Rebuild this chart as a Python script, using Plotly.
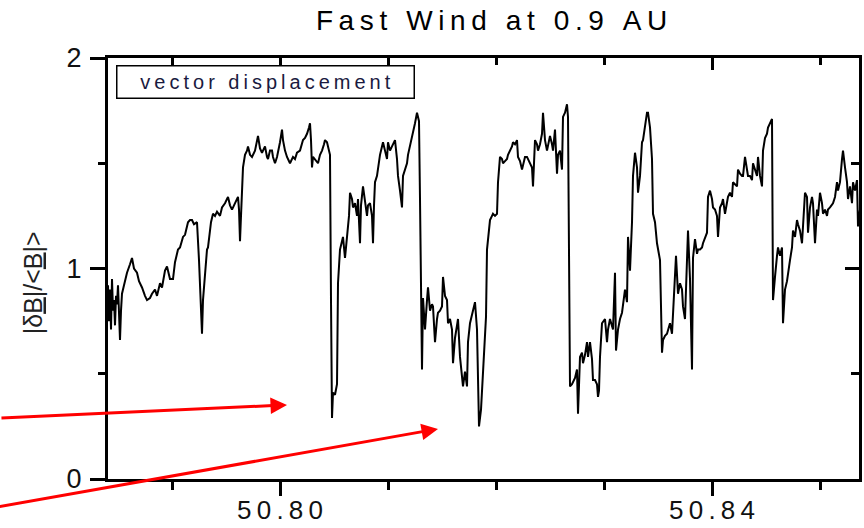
import plotly.graph_objects as go

# Fast-wind magnetic fluctuation amplitude |dB|/<|B|>, time in seconds after day 50.78
t_sec = [
    352, 360, 368, 376, 384, 392, 400, 408, 416, 424, 432, 440, 448, 456, 464, 480,
    504, 528, 544, 560, 584, 600, 624, 648, 664, 688, 704, 728, 744, 768, 784, 808,
    824, 848, 872, 888, 912, 928, 944, 952, 968, 992, 1008, 1024, 1040, 1064, 1080, 1096,
    1104, 1112, 1128, 1144, 1152, 1168, 1176, 1192, 1208, 1224, 1248, 1264, 1288, 1312, 1328, 1344,
    1368, 1392, 1400, 1408, 1416, 1424, 1432, 1448, 1464, 1472, 1488, 1504, 1528, 1552, 1568, 1584,
    1608, 1624, 1632, 1648, 1664, 1672, 1688, 1704, 1712, 1728, 1744, 1752, 1768, 1784, 1808, 1824,
    1832, 1848, 1864, 1888, 1904, 1912, 1928, 1944, 1960, 1968, 1976, 1984, 1992, 2008, 2024, 2032,
    2048, 2064, 2080, 2088, 2104, 2112, 2128, 2136, 2144, 2152, 2168, 2184, 2192, 2208, 2224, 2232,
    2248, 2264, 2280, 2288, 2304, 2312, 2328, 2344, 2352, 2368, 2376, 2392, 2408, 2424, 2432, 2448,
    2464, 2472, 2480, 2488, 2504, 2512, 2528, 2544, 2552, 2568, 2584, 2592, 2608, 2624, 2632, 2648,
    2664, 2672, 2688, 2704, 2712, 2728, 2744, 2752, 2768, 2784, 2792, 2808, 2824, 2832, 2840, 2848,
    2856, 2864, 2872, 2888, 2904, 2912, 2928, 2944, 2952, 2968, 2984, 2992, 3008, 3024, 3032, 3048,
    3064, 3072, 3088, 3104, 3112, 3128, 3144, 3152, 3168, 3184, 3192, 3208, 3224, 3232, 3248, 3264,
    3272, 3288, 3304, 3312, 3320, 3336, 3344, 3352, 3368, 3376, 3384, 3392, 3408, 3424, 3432, 3448,
    3464, 3472, 3488, 3504, 3512, 3528, 3544, 3552, 3568, 3584, 3592, 3608, 3624, 3632, 3648, 3664,
    3672, 3688, 3704, 3712, 3728, 3744, 3752, 3768, 3784, 3792, 3808, 3824, 3832, 3848, 3864, 3872,
    3888, 3904, 3912, 3928, 3944, 3952, 3968, 3984, 3992, 4008, 4024, 4032, 4040, 4048, 4064, 4072,
    4088, 4104, 4112, 4128, 4144, 4152, 4168, 4184, 4192, 4208, 4224, 4232, 4248, 4264, 4272, 4280,
    4288, 4304, 4328, 4344, 4352, 4368, 4384, 4392, 4408, 4416, 4432, 4448, 4464, 4472, 4488, 4504,
    4512, 4528, 4544, 4552, 4568, 4584, 4592, 4608, 4624, 4632, 4648, 4664, 4672, 4688, 4704, 4712,
    4728, 4744, 4768, 4776, 4784, 4792, 4808, 4824, 4832, 4848, 4864, 4872, 4888, 4896, 4912, 4928,
    4944, 4952, 4968, 4984, 4992, 5008, 5016, 5024, 5032, 5048, 5064, 5072, 5088, 5104, 5112, 5128,
    5144, 5152, 5168, 5184, 5192, 5208, 5224, 5232, 5248, 5264, 5272, 5288, 5304, 5312, 5328, 5344,
    5352, 5368, 5384, 5392, 5408, 5424, 5432, 5448, 5464, 5472, 5488, 5504, 5512, 5528, 5544, 5552,
    5568, 5584, 5592, 5608, 5624, 5632, 5648, 5664, 5672, 5680, 5688, 5704, 5712, 5728, 5744, 5752,
    5768, 5784, 5792, 5808, 5824, 5832, 5848, 5864, 5872, 5888, 5904, 5912, 5928, 5944, 5952, 5968,
    5984, 5992, 6008, 6024, 6032, 6048, 6064, 6072, 6088, 6104, 6112, 6128, 6144, 6152, 6168, 6184,
    6192, 6208, 6224, 6232, 6248, 6264, 6272, 6288, 6304, 6312, 6328, 6344, 6352, 6368,
]

db_ratio = [
    0.92, 0.75, 0.90, 0.71, 0.95, 0.80, 0.85, 0.73, 0.87, 0.83, 0.92, 0.75, 0.66, 0.80, 0.88, 0.92,
    0.98, 1.02, 1.05, 1.00, 0.98, 0.94, 0.91, 0.87, 0.85, 0.86, 0.88, 0.90, 0.87, 0.93, 0.91, 0.99,
    1.01, 0.95, 0.95, 1.03, 1.09, 1.10, 1.14, 1.15, 1.16, 1.22, 1.23, 1.23, 1.21, 1.22, 1.04, 0.85,
    0.69, 0.85, 0.99, 1.09, 1.10, 1.18, 1.22, 1.26, 1.25, 1.27, 1.25, 1.29, 1.31, 1.34, 1.30, 1.28,
    1.31, 1.34, 1.28, 1.13, 1.25, 1.41, 1.48, 1.54, 1.56, 1.58, 1.54, 1.53, 1.56, 1.63, 1.57, 1.55,
    1.58, 1.53, 1.52, 1.56, 1.56, 1.53, 1.50, 1.53, 1.55, 1.60, 1.66, 1.61, 1.56, 1.53, 1.50, 1.52,
    1.53, 1.52, 1.55, 1.56, 1.59, 1.61, 1.62, 1.64, 1.67, 1.69, 1.61, 1.48, 1.53, 1.52, 1.51, 1.50,
    1.54, 1.56, 1.59, 1.61, 1.60, 1.58, 1.54, 0.85, 0.29, 0.41, 0.40, 0.45, 0.93, 1.09, 1.14, 1.15,
    1.05, 1.17, 1.25, 1.36, 1.33, 1.29, 1.31, 1.25, 1.33, 1.12, 1.30, 1.39, 1.33, 1.25, 1.30, 1.31,
    1.25, 1.12, 1.30, 1.41, 1.44, 1.48, 1.54, 1.58, 1.60, 1.56, 1.52, 1.60, 1.56, 1.58, 1.59, 1.61,
    1.52, 1.44, 1.37, 1.29, 1.44, 1.47, 1.50, 1.54, 1.58, 1.63, 1.64, 1.69, 1.74, 1.72, 1.70, 1.33,
    0.85, 0.52, 0.86, 0.71, 0.85, 0.91, 0.80, 0.83, 0.82, 0.65, 0.76, 0.79, 0.80, 0.82, 0.96, 0.87,
    0.85, 0.74, 0.76, 0.71, 0.55, 0.67, 0.73, 0.76, 0.58, 0.49, 0.44, 0.51, 0.44, 0.65, 0.74, 0.78,
    0.80, 0.84, 0.71, 0.42, 0.25, 0.33, 0.42, 0.55, 0.71, 0.77, 1.09, 1.14, 1.23, 1.25, 1.26, 1.25,
    1.26, 1.41, 1.53, 1.52, 1.50, 1.51, 1.52, 1.54, 1.56, 1.58, 1.60, 1.59, 1.61, 1.53, 1.51, 1.47,
    1.49, 1.53, 1.53, 1.52, 1.50, 1.48, 1.39, 1.61, 1.59, 1.56, 1.59, 1.64, 1.74, 1.61, 1.56, 1.59,
    1.63, 1.59, 1.56, 1.66, 1.45, 1.54, 1.56, 1.47, 1.72, 1.74, 1.78, 1.72, 0.81, 0.44, 0.45, 0.46,
    0.48, 0.52, 0.31, 0.58, 0.60, 0.55, 0.59, 0.65, 0.58, 0.65, 0.57, 0.47, 0.47, 0.45, 0.39, 0.42,
    0.58, 0.74, 0.76, 0.65, 0.71, 0.76, 0.72, 0.71, 0.98, 0.61, 0.71, 0.76, 0.79, 0.83, 0.90, 0.84,
    1.15, 0.99, 1.22, 1.44, 1.55, 1.48, 1.36, 1.44, 1.60, 1.61, 1.69, 1.74, 1.74, 1.67, 1.52, 1.26,
    1.22, 1.12, 1.04, 0.80, 0.60, 0.66, 0.68, 0.69, 0.71, 0.74, 0.69, 0.77, 0.98, 1.06, 0.88, 0.93,
    0.90, 0.82, 0.76, 0.99, 1.18, 0.95, 0.76, 0.52, 1.05, 1.14, 1.07, 1.09, 1.09, 1.10, 1.12, 1.15,
    1.17, 1.34, 1.37, 1.33, 1.29, 1.28, 1.25, 1.15, 1.29, 1.31, 1.33, 1.26, 1.33, 1.34, 1.36, 1.34,
    1.41, 1.40, 1.39, 1.47, 1.45, 1.44, 1.44, 1.53, 1.45, 1.44, 1.44, 1.42, 1.50, 1.47, 1.44, 1.53,
    1.44, 1.39, 1.56, 1.62, 1.64, 1.67, 1.69, 1.71, 0.85, 0.92, 0.96, 1.06, 1.10, 1.06, 1.10, 0.74,
    0.90, 0.94, 0.98, 1.04, 1.10, 1.18, 1.15, 1.23, 1.21, 1.18, 1.12, 1.20, 1.36, 1.34, 1.17, 1.29,
    1.34, 1.31, 1.12, 1.28, 1.25, 1.36, 1.31, 1.26, 1.28, 1.25, 1.28, 1.29, 1.30, 1.31, 1.34, 1.41,
    1.37, 1.41, 1.52, 1.56, 1.48, 1.41, 1.33, 1.39, 1.31, 1.41, 1.37, 1.42, 1.20, 1.28,
]

DAY0 = 50.78
x_day = [DAY0 + s / 86400.0 for s in t_sec]

x_labels = [50.80, 50.84]
y_labels = [0, 1, 2]

title_text = "Fast Wind at 0.9 AU"
box_text = "vector displacement"

FONT = "Liberation Sans, Arial, sans-serif"
THIN = "\u2009"


def spaced(s):
    return THIN.join(s)


x_range = [DAY0 + 352 / 86400.0, DAY0 + 6360 / 86400.0]
y_range = [0, 2]

fig = go.Figure()
fig.add_trace(go.Scatter(
    x=x_day, y=db_ratio, mode="lines",
    line=dict(color="black", width=2),
    showlegend=False, hoverinfo="skip",
))
# empty trace so the mirrored top/right axes get their own subplot
fig.add_trace(go.Scatter(x=[], y=[], xaxis="x2", yaxis="y2",
                         showlegend=False, hoverinfo="skip"))

axis_common = dict(showgrid=False, zeroline=False, showline=True,
                   linecolor="black", linewidth=3, automargin=False)

fig.update_layout(
    width=864, height=528,
    margin=dict(l=108, r=5, t=58, b=49),
    paper_bgcolor="white", plot_bgcolor="white",
    font=dict(family=FONT, color="#111111"),
    title=dict(text=spaced(title_text), x=0.569, xanchor="center",
               y=0.962, yanchor="middle",
               font=dict(family=FONT, size=28, color="black")),
    xaxis=dict(
        **axis_common, range=x_range,
        tickmode="array", tickvals=x_labels,
        ticktext=[spaced(f"{v:.2f}") for v in x_labels],
        ticks="outside", ticklen=14, tickwidth=2.5, tickcolor="black",
        ticklabelstandoff=-8,
        tickfont=dict(family=FONT, size=26, color="#111111"),
        minor=dict(dtick=0.01, tick0=50.79, ticks="outside", ticklen=8,
                   tickwidth=2.5, tickcolor="black"),
    ),
    yaxis=dict(
        **axis_common, range=y_range,
        tickmode="array", tickvals=y_labels,
        ticktext=[str(v) for v in y_labels],
        ticks="outside", ticklen=15, tickwidth=2.5, tickcolor="black",
        ticklabelstandoff=3,
        tickfont=dict(family=FONT, size=27, color="#111111"),
        minor=dict(dtick=0.5, tick0=0, ticks="outside", ticklen=7,
                   tickwidth=2.5, tickcolor="black"),
    ),
    xaxis2=dict(
        **axis_common, range=x_range, overlaying="x", side="top", anchor="y",
        tickmode="array", tickvals=x_labels, showticklabels=False,
        ticks="inside", ticklen=12, tickwidth=2.5, tickcolor="black",
        minor=dict(dtick=0.01, tick0=50.79, ticks="inside", ticklen=7,
                   tickwidth=2.5, tickcolor="black"),
    ),
    yaxis2=dict(
        **axis_common, range=y_range, overlaying="y", side="right", anchor="x",
        tickmode="array", tickvals=y_labels, showticklabels=False,
        ticks="inside", ticklen=14, tickwidth=2.5, tickcolor="black",
        minor=dict(dtick=0.5, tick0=0, ticks="inside", ticklen=8,
                   tickwidth=2.5, tickcolor="black"),
    ),
)

# y-axis label, vector B underlined
fig.add_annotation(
    text="|δ<u>B</u>|/&lt;<u>B</u>|&gt;",
    xref="paper", yref="paper", x=-0.1, y=0.467,
    xanchor="center", yanchor="middle", textangle=-90, showarrow=False,
    font=dict(family=FONT, size=25, color="#222222"),
)

# boxed caption in the upper left of the panel
fig.add_annotation(
    text=spaced(box_text),
    xref="paper", yref="paper", x=0.0106, y=0.983,
    xanchor="left", yanchor="top", showarrow=False,
    width=292, height=27, align="center", valign="middle",
    bgcolor="white", bordercolor="black", borderwidth=1.5, borderpad=2,
    font=dict(family=FONT, size=20, color="#1a1a40"),
)

# red pointers to the two deep dips
pointers = [
    dict(tip=(50.80065, 0.352), tail=(50.77407, 0.290)),
    dict(tip=(50.81463, 0.238), tail=(50.77300, -0.140)),
]
for p in pointers:
    fig.add_annotation(
        x=p["tip"][0], y=p["tip"][1], ax=p["tail"][0], ay=p["tail"][1],
        xref="x", yref="y", axref="x", ayref="y",
        text="", showarrow=True, arrowhead=2, arrowsize=1.1,
        arrowwidth=3, arrowcolor="red",
    )

fig.write_html("out.html")
